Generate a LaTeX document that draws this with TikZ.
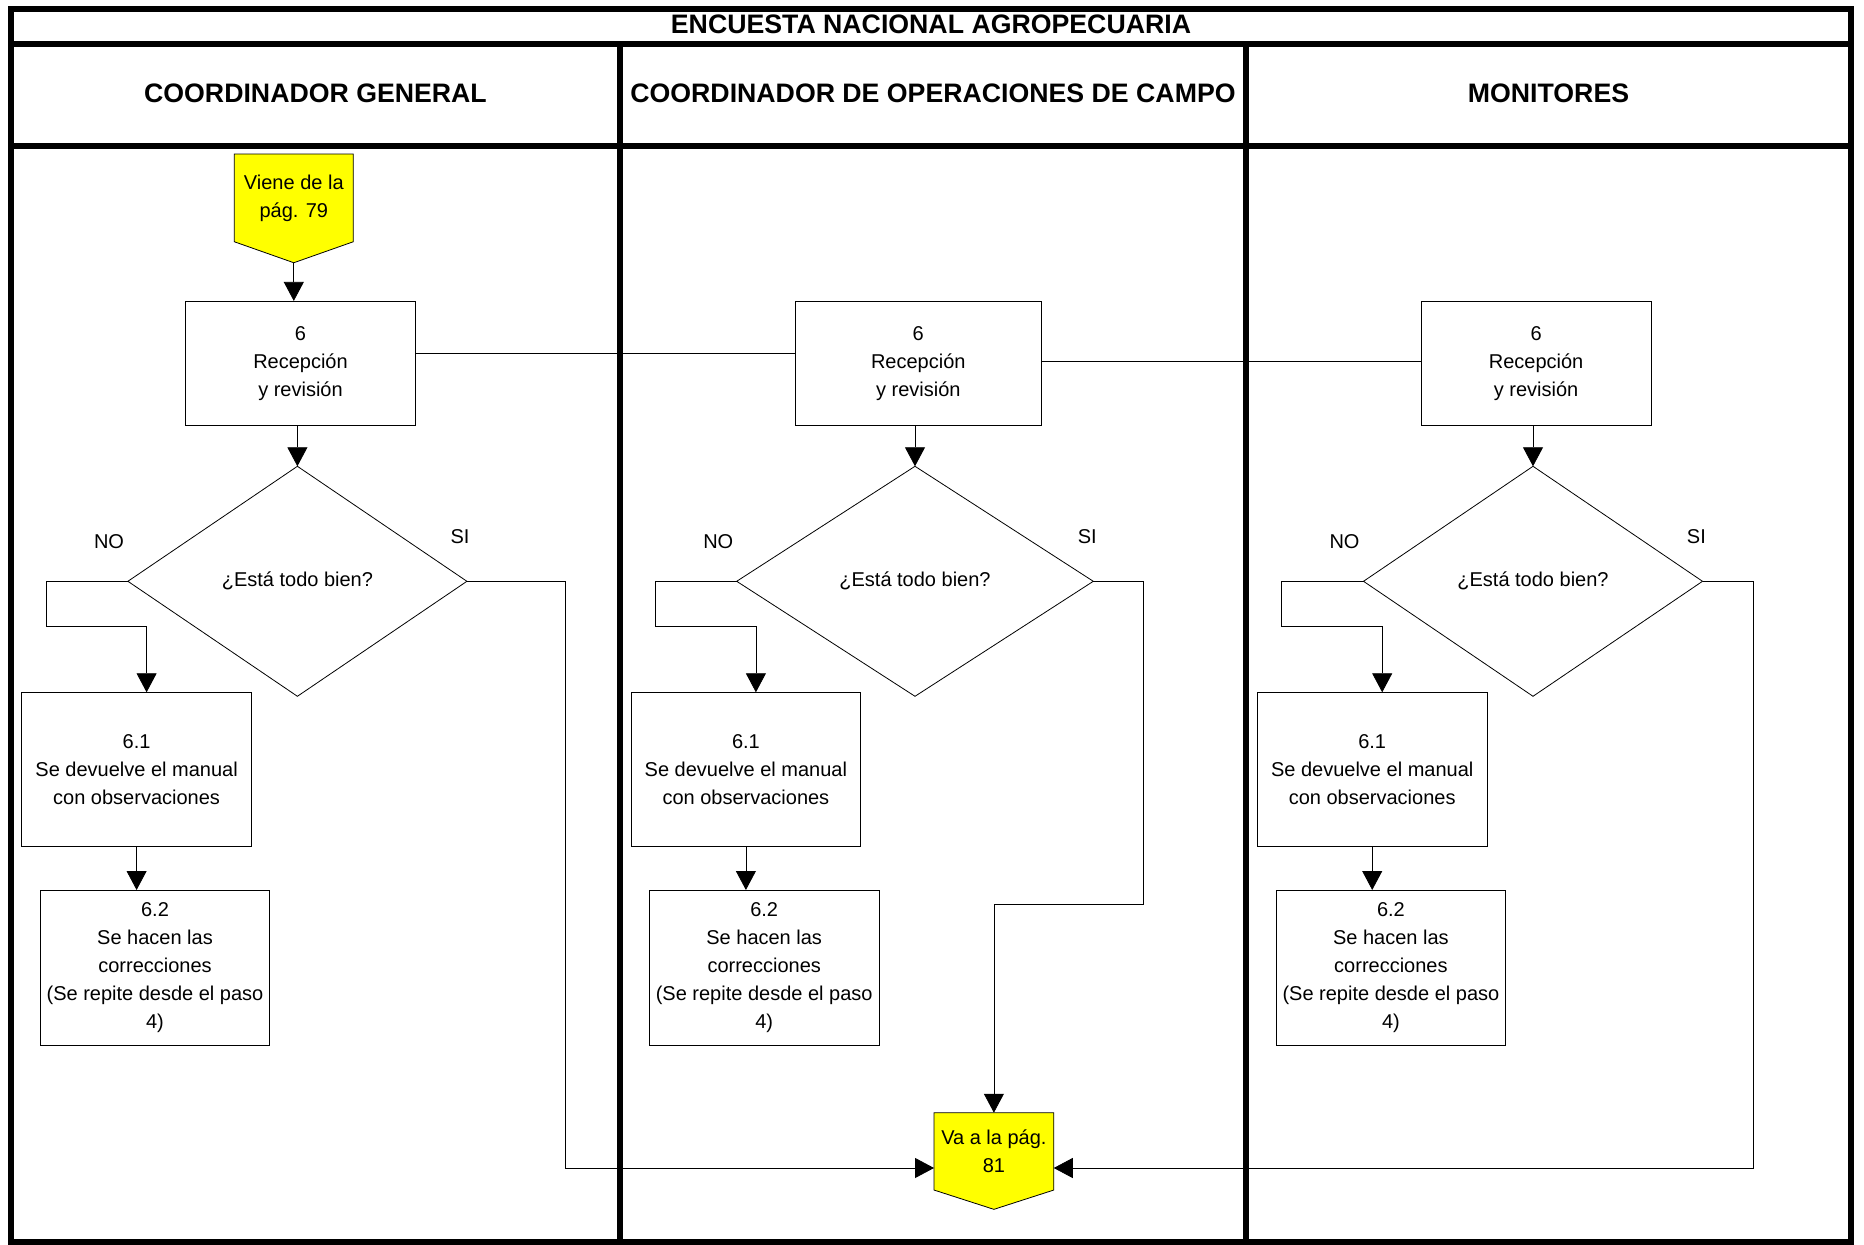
\documentclass[tikz,border=0pt]{standalone}
\usepackage{fontspec}
\setmainfont{Liberation Sans}
\usetikzlibrary{shapes.geometric,arrows.meta,calc,backgrounds}

\tikzset{every picture/.style={line width=1pt}}
\newcommand{\flowfont}{\fontsize{10}{14}\selectfont}
\newcommand{\headfont}{\fontsize{13.35}{16}\selectfont\bfseries}

\begin{document}
\begin{tikzpicture}[x=0.5pt,y=0.5pt,yscale=-1,xscale=1,
	lane/.style={line width=3pt},
	proc/.style={draw, rectangle, inner sep=1pt, outer sep=0pt, align=center, font=\flowfont},
	decision/.style={draw, diamond, inner sep=0pt, outer sep=0pt, minimum height=115pt, font=\flowfont},
	conn/.style={rectangle, inner sep=0pt, outer sep=0pt, align=center, font=\flowfont},
	offpage/.style={draw, fill={rgb, 255:red, 255; green, 255; blue, 0 }},
	flow/.style={-{Triangle[length=9.5pt,width=10pt]}},
	answer/.style={inner sep=0pt, font=\flowfont},
	head/.style={inner sep=0pt, font=\headfont}]
	\useasboundingbox (0,0) rectangle (1864,1245);
	
	%Lanes
	\draw [lane] (11,8.8) rectangle (1851,1242.3) ;
	\draw [lane] (11,43.7) -- (1851,43.7) ;
	\draw [lane] (11,145.7) -- (1851,145.7) ;
	\draw [lane] (620,43.7) -- (620,1242.3) ;
	\draw [lane] (1246,43.7) -- (1246,1242.3) ;
	
	% Text Node
	\node [head] (title) at (931,24) {ENCUESTA NACIONAL AGROPECUARIA};
	% Text Node
	\node [head] (cgen) at (315.5,93) {COORDINADOR GENERAL};
	% Text Node
	\node [head] (ccampo) at (933,93) {COORDINADOR DE OPERACIONES DE CAMPO};
	% Text Node
	\node [head] (mon) at (1548.5,93) {MONITORES};
	
	%Off-page: in
	\node [conn, minimum width=59.5pt, minimum height=43.85pt] (viene) at (293.8,197.9) {Viene de la\\pág. 79};
	\coordinate (viene tip) at ($(viene.south)+(0,21)$);
	%Off-page: out
	\node [conn, minimum width=59.85pt, minimum height=38.65pt] (va) at (993.9,1151.4) {Va a la pág.\\81};
	\coordinate (va tip) at ($(va.south)+(0,19.3)$);
	\begin{pgfonlayer}{background}
		\draw [offpage] (viene.north west) -- (viene.north east) -- (viene.south east) -- (viene tip) -- (viene.south west) -- cycle ;
		\draw [offpage] (va.north west) -- (va.north east) -- (va.south east) -- (va tip) -- (va.south west) -- cycle ;
	\end{pgfonlayer}
	
	%Shape: Rectangle
	\node [proc, minimum width=114.8pt, minimum height=62.35pt] (r1) at (300.5,363.3) {6\\Recepción\\y revisión};
	%Shape: Rectangle
	\node [proc, minimum width=123.35pt, minimum height=62.35pt] (r2) at (918.3,363.3) {6\\Recepción\\y revisión};
	%Shape: Rectangle
	\node [proc, minimum width=115pt, minimum height=62.35pt] (r3) at (1536.1,363.3) {6\\Recepción\\y revisión};
	
	%Flowchart: Decision
	\node [decision, minimum width=169.5pt] (d1) at (297.4,581.3) {¿Está todo bien?};
	%Flowchart: Decision
	\node [decision, minimum width=178.3pt] (d2) at (915,581.3) {¿Está todo bien?};
	%Flowchart: Decision
	\node [decision, minimum width=169.5pt] (d3) at (1533,581.3) {¿Está todo bien?};
	
	%Shape: Rectangle
	\node [proc, minimum width=114.8pt, minimum height=77.2pt] (b11) at (136.6,769.5) {6.1\\Se devuelve el manual\\con observaciones};
	%Shape: Rectangle
	\node [proc, minimum width=114.8pt, minimum height=77.2pt] (b21) at (745.9,769.5) {6.1\\Se devuelve el manual\\con observaciones};
	%Shape: Rectangle
	\node [proc, minimum width=114.8pt, minimum height=77.2pt] (b31) at (1372.2,769.5) {6.1\\Se devuelve el manual\\con observaciones};
	
	%Shape: Rectangle
	\node [proc, minimum width=114.8pt, minimum height=77.5pt] (b12) at (155,967.5) {6.2\\Se hacen las\\correcciones\\(Se repite desde el paso\\4)};
	%Shape: Rectangle
	\node [proc, minimum width=114.8pt, minimum height=77.5pt] (b22) at (764.2,967.5) {6.2\\Se hacen las\\correcciones\\(Se repite desde el paso\\4)};
	%Shape: Rectangle
	\node [proc, minimum width=114.8pt, minimum height=77.5pt] (b32) at (1390.9,967.5) {6.2\\Se hacen las\\correcciones\\(Se repite desde el paso\\4)};
	
	% Text Node
	\node [answer] (no1) at (109,541.7) {NO};
	\node [answer] (si1) at (460,536.7) {SI};
	\node [answer] (no2) at (718.3,541.7) {NO};
	\node [answer] (si2) at (1087.3,536.7) {SI};
	\node [answer] (no3) at (1344.5,541.7) {NO};
	\node [answer] (si3) at (1696.4,536.7) {SI};
	
	%Straight Lines
	\draw [flow] (viene tip) -- (viene tip |- r1.north) ;
	\coordinate (link1) at ($(r1.east)+(0,-10)$);
	\draw (link1) -- (link1 -| r2.west) ;
	\coordinate (link2) at ($(r2.east)+(0,-2)$);
	\draw (link2) -- (link2 -| r3.west) ;
	\draw [flow] (d1.north |- r1.south) -- (d1.north) ;
	\draw [flow] (d2.north |- r2.south) -- (d2.north) ;
	\draw [flow] (d3.north |- r3.south) -- (d3.north) ;
	
	%Straight Lines: NO
	\coordinate (back1) at (46.3,626);
	\draw [flow] (d1.west) -| (back1) -| ($(b11.north)+(10,0)$) ;
	\coordinate (back2) at (655.7,626);
	\draw [flow] (d2.west) -| (back2) -| ($(b21.north)+(10,0)$) ;
	\coordinate (back3) at (1281.5,626);
	\draw [flow] (d3.west) -| (back3) -| ($(b31.north)+(10,0)$) ;
	\draw [flow] (b11.south) -- (b11.south |- b12.north) ;
	\draw [flow] (b21.south) -- (b21.south |- b22.north) ;
	\draw [flow] (b31.south) -- (b31.south |- b32.north) ;
	
	%Straight Lines: SI
	\coordinate (ok1) at (565.6,1168);
	\draw [flow] (d1.east) -| (ok1) -- (ok1 -| va.west) ;
	\coordinate (ok2) at (1143.6,904.3);
	\draw [flow] (d2.east) -| (ok2) -| (va.north) ;
	\coordinate (ok3) at (1753.5,1168);
	\draw [flow] (d3.east) -| (ok3) -- (ok3 -| va.east) ;
	
\end{tikzpicture}
\end{document}
